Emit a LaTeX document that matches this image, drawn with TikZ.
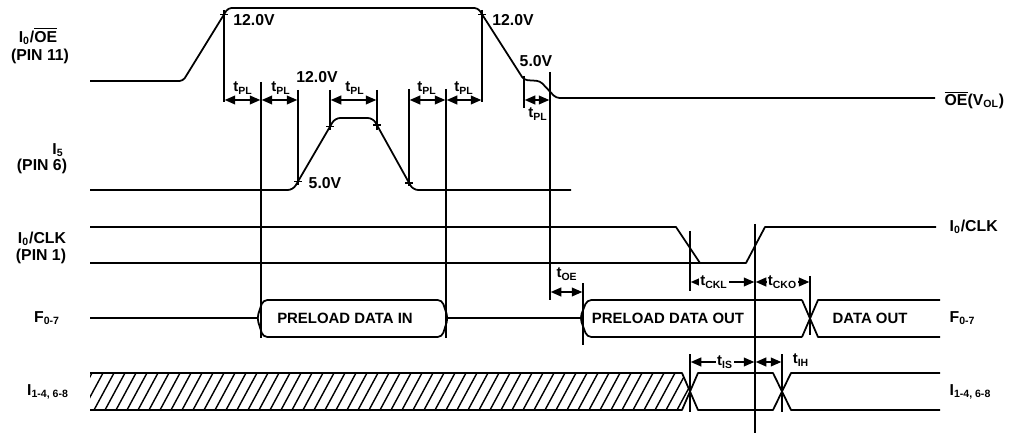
\documentclass[tikz,border=0pt]{standalone}
\usepackage{fontspec}
\setmainfont{Liberation Sans}
\usetikzlibrary{arrows.meta}
\newcommand{\ovl}[1]{$\overline{\hbox{#1}}$}
\begin{document}
\begin{tikzpicture}[x=0.02cm,y=-0.02cm, line width=1pt, line join=round,
  vline/.style={line width=0.9pt},
  dim/.style={{Triangle[length=6pt,width=5pt]}-{Triangle[length=6pt,width=5pt]}, line width=0.9pt, shorten <=0.4pt, shorten >=0.4pt},
  lbl/.style={font=\fontsize{9}{10.5}\selectfont\bfseries, inner sep=1pt},
  tl/.style={font=\fontsize{8.5}{9}\selectfont\bfseries, inner sep=0.8pt},
  cross/.style={line width=0.9pt}]
\useasboundingbox (0,0) rectangle (1023,435);

% ---------- I0/OE (PIN 11) ----------
\draw[rounded corners=2pt] (90,81) -- (183,81) -- (228,8) -- (478,8) -- (524,80) -- (540,81) -- (556,98) -- (935,98);
\draw[cross] (220,14.5) -- (228,14.5);
\draw[cross] (478,14.3) -- (486,14.3);
% ---------- I5 (PIN 6) ----------
\draw[rounded corners=3pt] (90,190) -- (293,190) -- (335,118) -- (373,118) -- (413,190) -- (571,190);
\draw[cross] (294,181.4) -- (302,181.4);
\draw[cross] (326,126.6) -- (334,126.6);
\draw[cross] (373,125.2) -- (381,125.2);
\draw[cross] (405,182.8) -- (413,182.8);
% ---------- I0/CLK (PIN 1) ----------
\draw (90,227) -- (676,227) -- (700,263);
\draw (90,263) -- (746,263) -- (765,227) -- (936,227);
% ---------- F0-7 ----------
\draw (90,318) -- (257,318);
\draw[rounded corners=2.5pt] (257,318) -- (263,300) -- (442,300) -- (448,318) -- (442,337) -- (263,337) -- cycle;
\draw (448,318) -- (580,318);
\draw[rounded corners=2.5pt] (802,300) -- (587,300) -- (580,318) -- (587,337) -- (802,337);
\draw (802,300) -- (818,337) -- (940,337);
\draw (802,337) -- (818,300) -- (940,300);
\node[tl] (pdi) at (345,318) {PRELOAD DATA IN};
\node[tl] (pdo) at (668,318) {PRELOAD DATA OUT};
\node[tl] (dout) at (870,318) {DATA OUT};
% ---------- I1-4, 6-8 ----------
\begin{scope}
  \clip (90,373) -- (682,373) -- (690,391.5) -- (682,410) -- (90,410) -- cycle;
  \foreach \x in {72,83,...,700} \draw[line width=0.8pt] (\x,410) -- (\x+20,373);
\end{scope}
\draw (90,373) -- (682,373) -- (698,410) -- (773,410) -- (791,373) -- (940,373);
\draw (90,410) -- (682,410) -- (698,373) -- (773,373) -- (791,410) -- (940,410);

% ---------- timing verticals ----------
\draw[vline] (224,10) -- (224,102);
\draw[vline] (261,82) -- (261,338);
\draw[vline] (298,90) -- (298,185);
\draw[vline] (330,90) -- (330,130);
\draw[vline] (377,90) -- (377,130);
\draw[vline] (409,89) -- (409,186);
\draw[vline] (446,89) -- (446,338);
\draw[vline] (482,10) -- (482,102);
\draw[vline] (524,76) -- (524,108);
\draw[vline] (550,72) -- (550,300);
\draw[vline] (583,283) -- (583,345);
\draw[vline] (690,231) -- (690,291);
\draw[vline] (755,224) -- (755,433);
\draw[vline] (810,276) -- (810,335);
\draw[vline] (690,354) -- (690,412);
\draw[vline] (782,354) -- (782,412);

% ---------- tPL dimensions ----------
\coordinate (a1) at (224,100); \coordinate (a2) at (261,100);
\coordinate (a3) at (298,100); \coordinate (a4) at (330,100);
\coordinate (a5) at (377,100); \coordinate (a6) at (409,100);
\coordinate (a7) at (446,100); \coordinate (a8) at (482,100);
\coordinate (a9) at (524,100); \coordinate (a10) at (550,100);
\draw[dim] (a1) -- (a2);
\draw[dim] (a2) -- (a3);
\draw[dim] (a4) -- (a5);
\draw[dim] (a6) -- (a7);
\draw[dim] (a7) -- (a8);
\draw[dim] (a9) -- (a10);
\node[tl] (p1) at (243,88) {t\textsubscript{PL}};
\node[tl] (p2) at (281,88) {t\textsubscript{PL}};
\node[tl] (p3) at (355,88) {t\textsubscript{PL}};
\node[tl] (p4) at (427,88) {t\textsubscript{PL}};
\node[tl] (p5) at (464,88) {t\textsubscript{PL}};
\node[tl] (p6) at (538,114) {t\textsubscript{PL}};

% ---------- other dimensions ----------
\coordinate (o1) at (550,292); \coordinate (o2) at (583,292);
\draw[dim] (o1) -- (o2);
\node[tl] (toe) at (567,274) {t\textsubscript{OE}};
\coordinate (c1) at (690,282); \coordinate (c2) at (755,282); \coordinate (c3) at (810,282);
\draw[dim] (c1) -- (c2);
\draw[dim] (c2) -- (c3);
\node[tl, fill=white] (tckl) at (714,282) {t\textsubscript{CKL}};
\node[tl, fill=white, inner sep=0.3pt] (tcko) at (782.5,282) {t\textsubscript{CKO}};
\coordinate (s1) at (690,362); \coordinate (s2) at (755,362); \coordinate (s3) at (782,362);
\draw[dim] (s1) -- (s2);
\draw[dim] (s2) -- (s3);
\node[tl, fill=white] (tis) at (725,362) {t\textsubscript{IS}};
\node[tl] (tih) at (801,360) {t\textsubscript{IH}};

% ---------- voltage labels ----------
\node[lbl] (v1) at (254,20) {12.0V};
\node[lbl] (v2) at (513,20) {12.0V};
\node[lbl] (v3) at (317,77) {12.0V};
\node[lbl] (v4) at (536,61) {5.0V};
\node[lbl] (v5) at (325,183) {5.0V};

% ---------- left signal names ----------
\node[lbl] (n1) at (38,36) {I\textsubscript{0}/\ovl{OE}};
\node[lbl] (n1b) at (40,56) {(PIN 11)};
\node[lbl] (n2) at (58,150) {I\textsubscript{5}};
\node[lbl] (n2b) at (42,166) {(PIN 6)};
\node[lbl] (n3) at (42,239) {I\textsubscript{0}/CLK};
\node[lbl] (n3b) at (41,256) {(PIN 1)};
\node[lbl] (n4) at (47,318) {F\textsubscript{0-7}};
\node[lbl] (n5) at (48,392) {I\textsubscript{1-4, 6-8}};

% ---------- right signal names ----------
\node[lbl, anchor=west] (r1) at (942,100) {\ovl{OE}(V\textsubscript{OL})};
\node[lbl, anchor=west] (r2) at (947,227) {I\textsubscript{0}/CLK};
\node[lbl, anchor=west] (r3) at (947,318) {F\textsubscript{0-7}};
\node[lbl, anchor=west] (r4) at (947,392) {I\textsubscript{1-4, 6-8}};
\end{tikzpicture}
\end{document}
